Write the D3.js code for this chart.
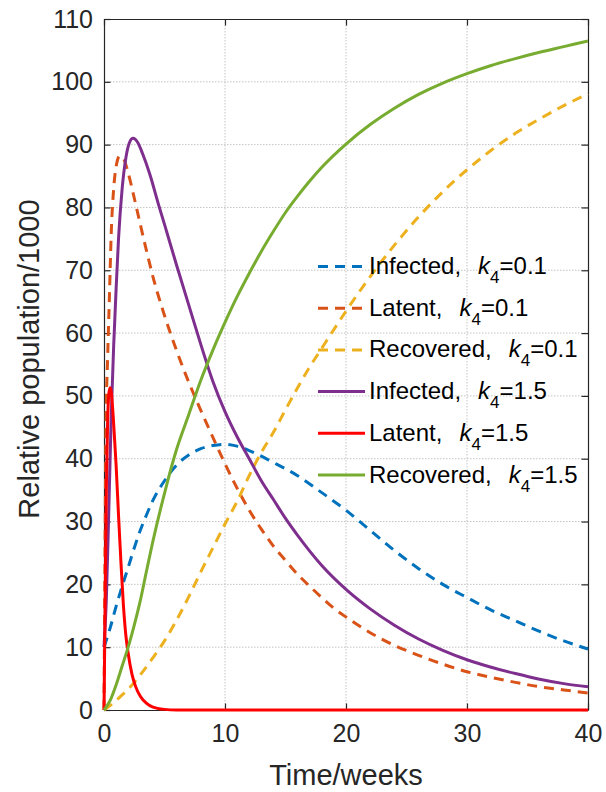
<!DOCTYPE html>
<html>
<head>
<meta charset="utf-8">
<script src="https://cdn.jsdelivr.net/npm/d3@7/dist/d3.min.js"></script>
<style>
  html, body { margin: 0; padding: 0; background: #fff; }
  text { font-family: "Liberation Sans", Arial, sans-serif; }
</style>
</head>
<body>
<svg id="chart" width="606" height="792"></svg>
<script>
// values: [time in weeks, relative population/1000]
var infected01 = [[0,10],[0.5,13],[1,16.5],[1.5,19.7],[2,22.7],[2.5,25.8],[3,28.6],[3.5,31],[4,33.2],[5,36.5],[6,39],[7,40.6],[8,41.6],[9,42.1],[10,42.3],[11,42],[12,41.3],[14,39.4],[16,37.3],[18,34.6],[20,31.8],[22,28.6],[24,25.4],[26,22.5],[28,20],[30,17.9],[32,15.9],[34,14.2],[36,12.5],[38,11],[40,9.7]];
var latent01 = [[0,0],[0.05,15],[0.1,30],[0.17,46],[0.3,56],[0.45,66],[0.6,76],[0.8,83],[1,86.5],[1.3,88.2],[1.6,87.8],[2,85.5],[2.5,81.5],[3,77.3],[3.5,73.2],[4,69.3],[5,62.8],[6,57.2],[7,52.2],[8,47.7],[9,43.4],[10,39.2],[11,35.3],[12,31.8],[13,28.8],[14,26.1],[15,23.8],[16,21.6],[17,19.7],[18,17.9],[19,16.2],[20,14.8],[22,12.3],[24,10.3],[26,8.7],[28,7.3],[30,6.1],[32,5.2],[34,4.4],[36,3.7],[38,3.2],[40,2.7]];
var recovered01 = [[0,0],[0.5,0.7],[1,1.5],[1.5,2.4],[2,3.3],[3,5.6],[4,8.2],[5,11],[6,14.3],[7,18],[8,22],[9,25.8],[10,29.6],[11,33.2],[12,37.3],[13,41],[14,44.2],[15,47.8],[16,51.3],[17,54.6],[18,57.6],[20,63.5],[22,69],[24,74],[26,78.5],[28,82.5],[30,86],[32,89.1],[34,91.8],[36,94.1],[38,96.2],[40,98.1]];
var infected15 = [[0,10],[0.2,18],[0.4,32],[0.6,47],[0.8,58],[1,67],[1.2,75],[1.5,83],[1.8,87.8],[2.1,90.3],[2.4,91],[2.8,90.3],[3.2,88.5],[3.8,85.2],[4.5,80.5],[5,77.3],[6,70.8],[7,64.5],[8,58.2],[9,52.3],[10,47.5],[11,43.5],[12,40],[13,36.5],[14,33.5],[15,30.5],[16,27.8],[17,25.3],[18,23],[20,19.2],[22,16.1],[24,13.5],[26,11.3],[28,9.5],[30,8],[32,6.8],[34,5.8],[36,4.9],[38,4.2],[40,3.7]];
var latent15 = [[0,0],[0.1,18],[0.2,36],[0.3,46],[0.4,50.3],[0.5,51.3],[0.6,50.6],[0.8,45.5],[1,39],[1.2,31],[1.4,23.5],[1.6,16.8],[1.8,12],[2,9],[2.3,5.8],[2.6,3.8],[3,2.2],[3.5,1.1],[4,0.5],[5,0.1],[6,0],[40,0]];
var recovered15 = [[0,0],[0.5,1.5],[1,4],[1.5,7],[2,10],[2.5,13.5],[3,17.4],[3.5,22],[4,26.5],[5,34.5],[6,41.5],[7,47],[8,52.5],[9,57.3],[10,61.7],[11,65.8],[12,69.5],[13,73],[14,76.2],[15,79.2],[16,81.8],[17,84.2],[18,86.4],[20,90.1],[22,93.2],[24,95.8],[26,98],[28,99.8],[30,101.3],[32,102.6],[34,103.7],[36,104.7],[38,105.6],[40,106.5]];

var seriesNames = ["Infected,", "Latent,", "Recovered,", "Infected,", "Latent,", "Recovered,"];
var k4Values = ["0.1", "0.1", "0.1", "1.5", "1.5", "1.5"];
var xTicks = [0, 10, 20, 30, 40];
var yTicks = [0, 10, 20, 30, 40, 50, 60, 70, 80, 90, 100, 110];

var series = [
  {data: infected01, color: "#0072BD", dash: "10,7"},
  {data: latent01, color: "#D95319", dash: "10,7"},
  {data: recovered01, color: "#EDB120", dash: "10,7"},
  {data: infected15, color: "#7E2F8E", dash: null},
  {data: latent15, color: "#FF0000", dash: null},
  {data: recovered15, color: "#77AC30", dash: null}
];

var svg = d3.select("#chart");
var plotLeft = 104, plotRight = 588, plotTop = 19, plotBottom = 710;
var axisColor = "#262626";

var x = d3.scaleLinear().domain([0, 40]).range([plotLeft, plotRight]);
var y = d3.scaleLinear().domain([0, 110]).range([plotBottom, plotTop]);

// grid
var grid = svg.append("g").attr("class", "grid");
grid.selectAll("line.gx").data(xTicks.slice(1, -1)).enter().append("line")
  .attr("x1", function(d){ return x(d); }).attr("x2", function(d){ return x(d); })
  .attr("y1", plotTop).attr("y2", plotBottom)
  .attr("stroke", "#c4c4c4").attr("stroke-dasharray", "1.5,1.5");
grid.selectAll("line.gy").data(yTicks.slice(1, -1)).enter().append("line")
  .attr("y1", function(d){ return y(d); }).attr("y2", function(d){ return y(d); })
  .attr("x1", plotLeft).attr("x2", plotRight)
  .attr("stroke", "#c4c4c4").attr("stroke-dasharray", "1.5,1.5");

// axes with inward ticks
var tickLen = 6.5;
svg.append("g").attr("transform", "translate(0," + plotBottom + ")")
  .call(d3.axisBottom(x).tickValues(xTicks).tickSizeInner(-tickLen).tickSizeOuter(0).tickPadding(14))
  .call(styleAxis);
svg.append("g").attr("transform", "translate(0," + plotTop + ")")
  .call(d3.axisTop(x).tickValues(xTicks).tickSizeInner(-tickLen).tickSizeOuter(0).tickFormat(""))
  .call(styleAxis);
svg.append("g").attr("transform", "translate(" + plotLeft + ",0)")
  .call(d3.axisLeft(y).tickValues(yTicks).tickSizeInner(-tickLen).tickSizeOuter(0).tickPadding(11))
  .call(styleAxis);
svg.append("g").attr("transform", "translate(" + plotRight + ",0)")
  .call(d3.axisRight(y).tickValues(yTicks).tickSizeInner(-tickLen).tickSizeOuter(0).tickFormat(""))
  .call(styleAxis);

function styleAxis(g) {
  g.select(".domain").attr("stroke", axisColor).attr("stroke-width", 1.2);
  g.selectAll(".tick line").attr("stroke", axisColor).attr("stroke-width", 1.2);
  g.selectAll(".tick text").attr("fill", axisColor)
    .style("font-family", "'Liberation Sans', Arial, sans-serif").style("font-size", "25px");
}

// curves
var line = d3.line()
  .x(function(d){ return x(d[0]); })
  .y(function(d){ return y(d[1]); })
  .curve(d3.curveMonotoneX);

svg.append("g").selectAll("path").data(series).enter().append("path")
  .attr("d", function(d){ return line(d.data); })
  .attr("fill", "none")
  .attr("stroke", function(d){ return d.color; })
  .attr("stroke-width", 3)
  .attr("stroke-dasharray", function(d){ return d.dash; })
  .attr("stroke-linejoin", "round");

// axis labels
svg.append("text").attr("x", (plotLeft + plotRight) / 2).attr("y", 785)
  .attr("text-anchor", "middle").attr("fill", axisColor)
  .style("font-size", "29px").text("Time/weeks");
svg.append("text").attr("transform", "translate(39,359) rotate(-90)")
  .attr("text-anchor", "middle").attr("fill", axisColor)
  .style("font-size", "29px").text("Relative population/1000");

// legend
var legend = svg.append("g").attr("class", "legend");
var rowY0 = 274, rowGap = 41.7;
series.forEach(function(s, i) {
  var by = rowY0 + i * rowGap;
  legend.append("line")
    .attr("x1", 318).attr("x2", 365).attr("y1", by - 7.5).attr("y2", by - 7.5)
    .attr("stroke", s.color).attr("stroke-width", 3)
    .attr("stroke-dasharray", s.dash);
  var t = legend.append("text").attr("x", 369).attr("y", by)
    .attr("fill", "#000").style("font-size", "24px");
  t.append("tspan").text(seriesNames[i]);
  t.append("tspan").attr("dx", 17).style("font-style", "italic").text("k");
  t.append("tspan").attr("dy", 9).style("font-size", "17px").text("4");
  t.append("tspan").attr("dy", -9).text("=" + k4Values[i]);
});
</script>
</body>
</html>
